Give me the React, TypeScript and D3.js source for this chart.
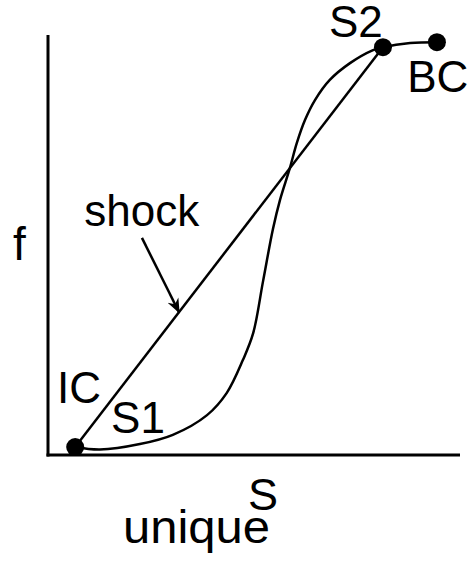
import React from "react";
import * as d3 from "d3";

// fractional-flow curve f(S): S values and f values (normalised 0..1)
const curveS = [0.066, 0.126, 0.223, 0.303, 0.386, 0.434, 0.473, 0.498, 0.522, 0.546, 0.563, 0.587, 0.604, 0.624, 0.648, 0.684, 0.733, 0.789, 0.813, 0.879, 0.944];
const curveF = [0.019, 0.013, 0.026, 0.048, 0.095, 0.148, 0.226, 0.29, 0.414, 0.538, 0.607, 0.683, 0.743, 0.798, 0.845, 0.893, 0.933, 0.964, 0.971, 0.981, 0.983];

// marked states
const pointNames = ["IC", "S2", "BC"];
const pointS = [0.066, 0.813, 0.944];
const pointF = [0.019, 0.971, 0.983];

// shock chord from IC to S2
const shockS = [0.066, 0.813];
const shockF = [0.019, 0.971];

// arrow from label to shock line
const arrowS = [0.228, 0.318];
const arrowF = [0.517, 0.34];

// labels
const labelText = ["S2", "BC", "shock", "IC", "S1"];
const labelS = [0.682, 0.872, 0.088, 0.022, 0.153];
const labelF = [0.995, 0.864, 0.545, 0.124, 0.052];

const W = 474;
const H = 573;
const FONT = "'Liberation Sans', Arial, sans-serif";

export default function App() {
  const x = d3.scaleLinear().domain([0, 1]).range([48, 460]);
  const y = d3.scaleLinear().domain([0, 1]).range([455, 35]);

  const curvePts: [number, number][] = curveS.map((s, i) => [s, curveF[i]]);
  const line = d3
    .line<[number, number]>()
    .x((d) => x(d[0]))
    .y((d) => y(d[1]))
    .curve(d3.curveCatmullRom.alpha(0.5));
  const straight = d3
    .line<[number, number]>()
    .x((d) => x(d[0]))
    .y((d) => y(d[1]));

  const shockPts: [number, number][] = shockS.map((s, i) => [s, shockF[i]]);
  const arrowPts: [number, number][] = arrowS.map((s, i) => [s, arrowF[i]]);

  const [x0, x1] = x.range();
  const [y0, y1] = y.range();

  return (
    <svg
      width={W}
      height={H}
      style={{ position: "absolute", left: 0, top: 0, background: "#fff" }}
      fontFamily={FONT}
    >
      <defs>
        <marker
          id="arr"
          viewBox="0 0 10 10"
          refX="9"
          refY="5"
          markerWidth="6"
          markerHeight="6"
          markerUnits="strokeWidth"
          orient="auto"
        >
          <path d="M0,1 L10,5 L0,9 L3,5 Z" fill="#000" />
        </marker>
      </defs>
      {/* axes */}
      <line x1={x0} y1={y1} x2={x0} y2={y0 + 1.5} stroke="#000" strokeWidth={3} />
      <line x1={x0 - 1.5} y1={y0} x2={x1} y2={y0} stroke="#000" strokeWidth={3} />

      {/* curve */}
      <path d={line(curvePts) || ""} fill="none" stroke="#000" strokeWidth={2.5} />
      {/* shock */}
      <path d={straight(shockPts) || ""} fill="none" stroke="#000" strokeWidth={2.5} />
      {/* arrow */}
      <path d={straight(arrowPts) || ""} fill="none" stroke="#000" strokeWidth={2.5} markerEnd="url(#arr)" />

      {/* points */}
      {pointNames.map((n, i) => (
        <circle key={n} cx={x(pointS[i])} cy={y(pointF[i])} r={9} fill="#000" />
      ))}

      {/* labels */}
      {labelText.map((t, i) => (
        <text key={t} x={x(labelS[i])} y={y(labelF[i])} fontSize={44} fill="#000">
          {t}
        </text>
      ))}
      <text x={13} y={260} fontSize={46} fill="#000">f</text>
      <text x={248} y={510} fontSize={45} fill="#000">S</text>
      <text x={123} y={543} fontSize={46} fill="#000" textLength={147} lengthAdjust="spacingAndGlyphs">unique</text>
    </svg>
  );
}
